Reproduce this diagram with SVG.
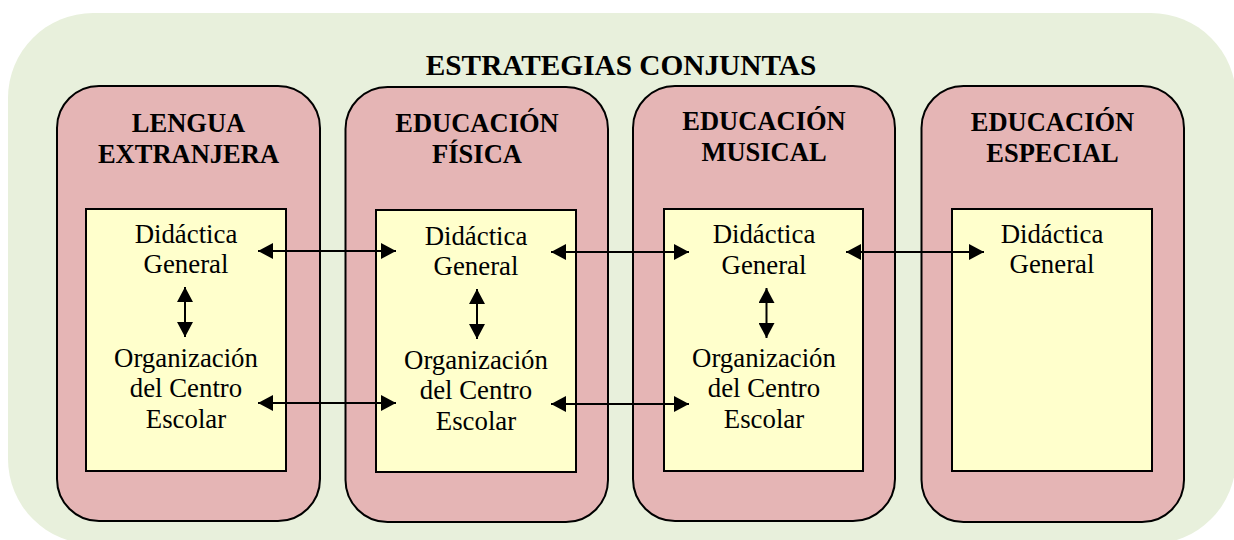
<svg xmlns="http://www.w3.org/2000/svg" width="1234" height="540" viewBox="0 0 1234 540">
  <style>
    .panel { fill: #e5b5b5; stroke: #000; stroke-width: 2; }
    .inner { fill: #ffffcc; stroke: #000; stroke-width: 2; }
    .hdr { font-family: "Liberation Serif", "Times New Roman", serif; font-weight: bold; font-size: 26.5px; text-anchor: middle; fill: #000; }
    .body { font-family: "Liberation Serif", "Times New Roman", serif; font-size: 26.8px; text-anchor: middle; fill: #000; }
    .title { font-family: "Liberation Serif", "Times New Roman", serif; font-weight: bold; font-size: 29.3px; text-anchor: middle; fill: #000; }
    .conn { stroke: #000; stroke-width: 2; fill: none; marker-start: url(#ah); marker-end: url(#ah); }
  </style>
  <defs>
    <marker id="ah" markerUnits="userSpaceOnUse" markerWidth="16" markerHeight="16" refX="15" refY="8" orient="auto-start-reverse">
      <path d="M0,0 L15,8 L0,16 z" fill="#000"/>
    </marker>
  </defs>

  <g id="background">
    <rect x="8" y="13" width="1228" height="531" rx="85" ry="85" fill="#e8f0dc"/>
    <text class="title" x="621" y="75">ESTRATEGIAS CONJUNTAS</text>
  </g>

  <g id="lengua-extranjera">
    <rect class="panel" x="57" y="86" width="263" height="435" rx="42" ry="42"/>
    <text class="hdr" x="188.5" y="132">LENGUA</text>
    <text class="hdr" x="188.5" y="163">EXTRANJERA</text>
    <rect class="inner" x="86" y="209" width="200" height="262"/>
    <text class="body" x="186" y="243">Didáctica</text>
    <text class="body" x="186" y="273">General</text>
    <text class="body" x="186" y="367">Organización</text>
    <text class="body" x="186" y="397">del Centro</text>
    <text class="body" x="186" y="428">Escolar</text>
  </g>

  <g id="educacion-fisica">
    <rect class="panel" x="345.5" y="87" width="262.5" height="435" rx="42" ry="42"/>
    <text class="hdr" x="477" y="132">EDUCACIÓN</text>
    <text class="hdr" x="477" y="163">FÍSICA</text>
    <rect class="inner" x="376" y="210" width="200" height="262"/>
    <text class="body" x="476" y="245">Didáctica</text>
    <text class="body" x="476" y="275">General</text>
    <text class="body" x="476" y="369">Organización</text>
    <text class="body" x="476" y="399">del Centro</text>
    <text class="body" x="476" y="430">Escolar</text>
  </g>

  <g id="educacion-musical">
    <rect class="panel" x="633" y="86" width="262" height="435" rx="42" ry="42"/>
    <text class="hdr" x="764" y="130">EDUCACIÓN</text>
    <text class="hdr" x="764" y="161">MUSICAL</text>
    <rect class="inner" x="664" y="209" width="199" height="262"/>
    <text class="body" x="764" y="243">Didáctica</text>
    <text class="body" x="764" y="274">General</text>
    <text class="body" x="764" y="367">Organización</text>
    <text class="body" x="764" y="397">del Centro</text>
    <text class="body" x="764" y="428">Escolar</text>
  </g>

  <g id="educacion-especial">
    <rect class="panel" x="921.5" y="86" width="262.5" height="436" rx="42" ry="42"/>
    <text class="hdr" x="1052.5" y="131">EDUCACIÓN</text>
    <text class="hdr" x="1052.5" y="162">ESPECIAL</text>
    <rect class="inner" x="952" y="209" width="200" height="262"/>
    <text class="body" x="1052" y="243">Didáctica</text>
    <text class="body" x="1052" y="273">General</text>
  </g>

  <g id="connectors">
    <line class="conn" x1="258" y1="251" x2="396" y2="251"/>
    <line class="conn" x1="258" y1="403" x2="396" y2="403"/>
    <line class="conn" x1="551" y1="252" x2="689" y2="252"/>
    <line class="conn" x1="551" y1="404" x2="689" y2="404"/>
    <line class="conn" x1="846" y1="252" x2="984" y2="252"/>
    <line class="conn" x1="185" y1="287" x2="185" y2="337"/>
    <line class="conn" x1="477" y1="289" x2="477" y2="339"/>
    <line class="conn" x1="766.5" y1="288" x2="766.5" y2="338"/>
  </g>
</svg>
